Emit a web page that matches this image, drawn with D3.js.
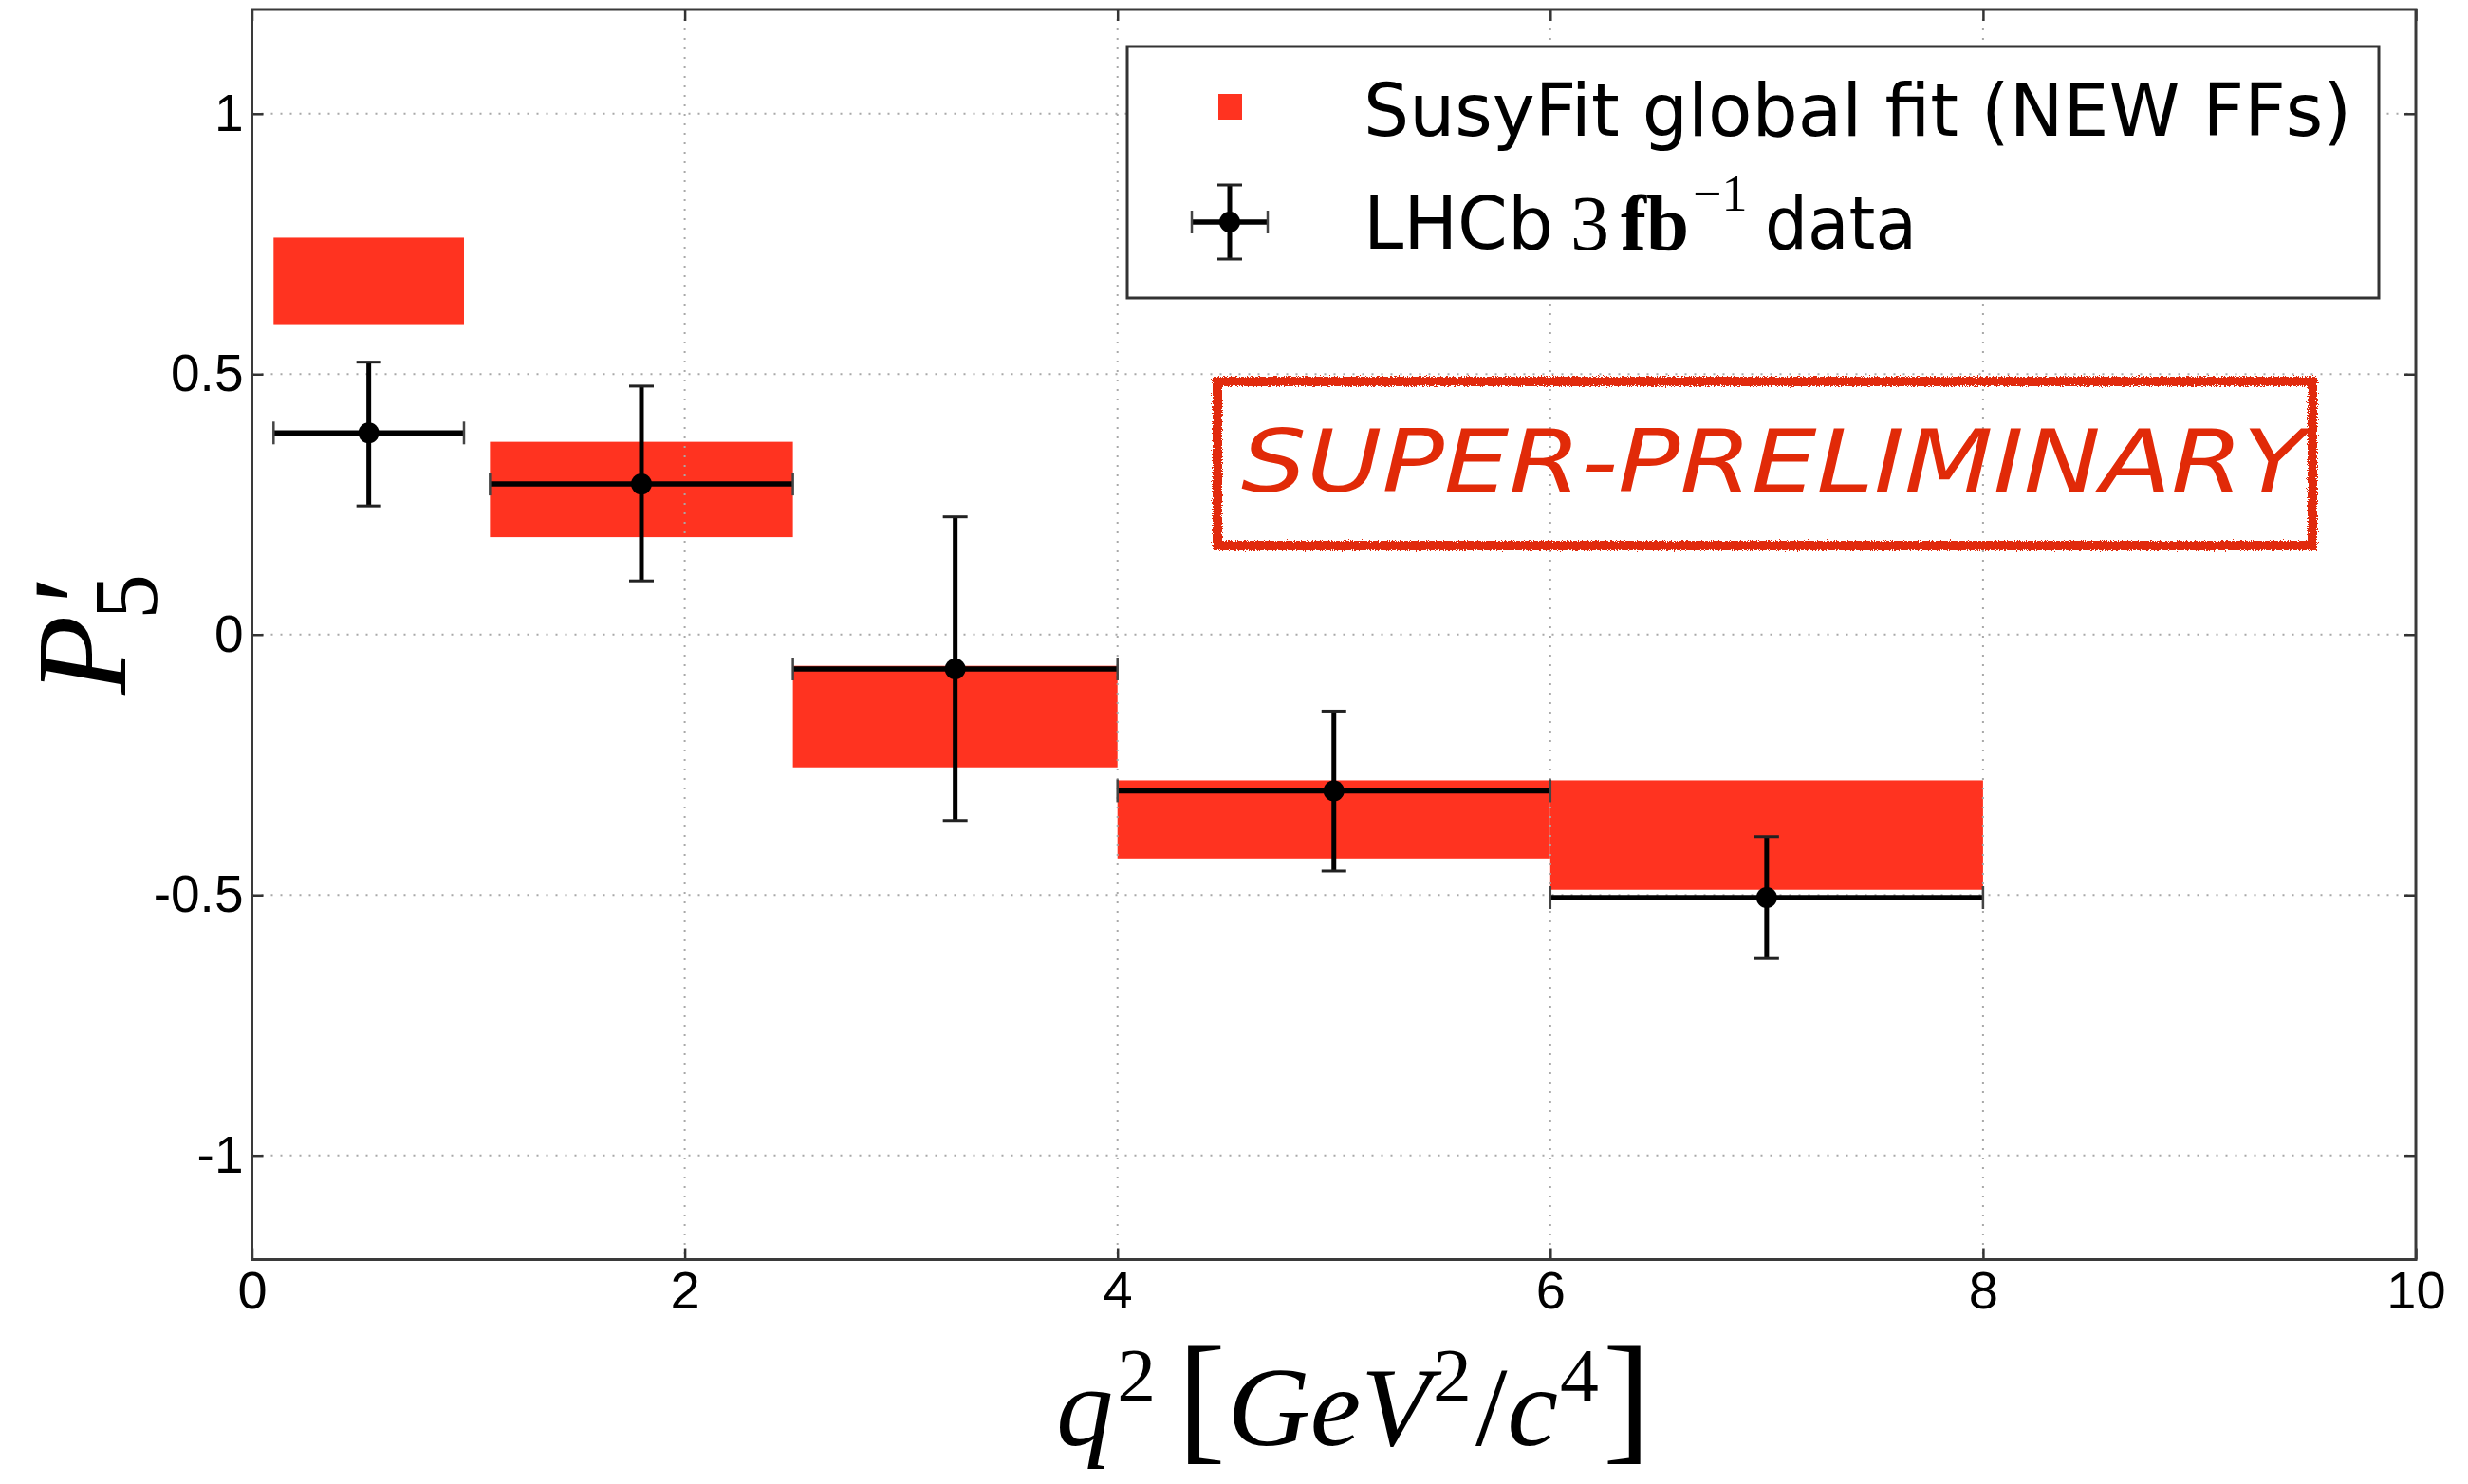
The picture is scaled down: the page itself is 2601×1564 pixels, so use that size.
<!DOCTYPE html>
<html><head><meta charset="utf-8">
<script src="https://cdn.jsdelivr.net/npm/d3@7"></script>
<style>html,body{margin:0;padding:0;background:#fff;} svg{display:block;}</style>
</head><body>
<svg id="chart" width="2601" height="1564"></svg>
<script>
// q^2 bins (GeV^2/c^4)
const binLow  = [0.1, 1.1, 2.5, 4.0, 6.0];
const binHigh = [0.98, 2.5, 4.0, 6.0, 8.0];
// global-fit prediction bands for P5'
const fitMin = [0.596, 0.187, -0.255, -0.430, -0.490];
const fitMax = [0.762, 0.370, -0.060, -0.280, -0.280];
// LHCb measurement with asymmetric errors
const dataQ2  = [0.54, 1.80, 3.25, 5.00, 7.00];
const dataP5  = [0.387, 0.289, -0.066, -0.300, -0.505];
const errUp   = [0.136, 0.188, 0.292, 0.153, 0.117];
const errDown = [0.140, 0.186, 0.291, 0.154, 0.117];
// axis ticks
const xTicks = [0, 2, 4, 6, 8, 10];
const yTicks = [-1, -0.5, 0, 0.5, 1];
const yTickLabels = ["-1", "-0.5", "0", "0.5", "1"];

const plot = {left: 265.5, right: 2546, top: 10, bottom: 1327.5};
const RED = "#ff3320";

const svg = d3.select("#chart");
const x = d3.scaleLinear().domain([0, 10]).range([plot.left, plot.right]);
const y = d3.scaleLinear().domain([-1.2, 1.2]).range([plot.bottom, plot.top]);

const defs = svg.append("defs");
const rough = defs.append("filter").attr("id", "rough")
  .attr("x", "-5%").attr("y", "-20%").attr("width", "110%").attr("height", "140%");
rough.append("feTurbulence").attr("type", "fractalNoise").attr("baseFrequency", 0.9)
  .attr("numOctaves", 2).attr("seed", 3).attr("result", "noise");
rough.append("feDisplacementMap").attr("in", "SourceGraphic").attr("in2", "noise")
  .attr("scale", 6).attr("xChannelSelector", "R").attr("yChannelSelector", "G");

// fit bands
const bins = binLow.map((lo, i) => ({lo, hi: binHigh[i], min: fitMin[i], max: fitMax[i]}));
svg.append("g").selectAll("rect").data(bins).join("rect")
  .attr("x", d => x(d.lo)).attr("width", d => x(d.hi) - x(d.lo))
  .attr("y", d => y(d.max)).attr("height", d => y(d.min) - y(d.max))
  .attr("fill", RED);

// dotted grid
const grid = svg.append("g").attr("stroke", "#a8a8a8").attr("stroke-width", 2)
  .attr("stroke-dasharray", "2,8");
grid.selectAll(".gx").data(xTicks.slice(1, -1)).join("line")
  .attr("x1", d => x(d)).attr("x2", d => x(d)).attr("y1", plot.top).attr("y2", plot.bottom);
grid.selectAll(".gy").data(yTicks).join("line")
  .attr("y1", d => y(d)).attr("y2", d => y(d)).attr("x1", plot.left).attr("x2", plot.right);

// measurements
const pts = dataQ2.map((q, i) => ({q, v: dataP5[i], up: errUp[i], dn: errDown[i], lo: binLow[i], hi: binHigh[i]}));
const g = svg.append("g").selectAll("g").data(pts).join("g");
g.append("line").attr("x1", d => x(d.lo)).attr("x2", d => x(d.hi))
  .attr("y1", d => y(d.v)).attr("y2", d => y(d.v)).attr("stroke", "#000").attr("stroke-width", 5.5);
g.append("line").attr("x1", d => x(d.q)).attr("x2", d => x(d.q))
  .attr("y1", d => y(d.v + d.up)).attr("y2", d => y(d.v - d.dn)).attr("stroke", "#000").attr("stroke-width", 5);
g.selectAll(".vcap").data(d => [[d.q, d.v + d.up], [d.q, d.v - d.dn]]).join("line")
  .attr("x1", d => x(d[0]) - 13).attr("x2", d => x(d[0]) + 13)
  .attr("y1", d => y(d[1])).attr("y2", d => y(d[1])).attr("stroke", "#222").attr("stroke-width", 3);
g.selectAll(".hcap").data(d => [[d.lo, d.v], [d.hi, d.v]]).join("line")
  .attr("x1", d => x(d[0])).attr("x2", d => x(d[0]))
  .attr("y1", d => y(d[1]) - 12).attr("y2", d => y(d[1]) + 12).attr("stroke", "#444").attr("stroke-width", 2.5);
g.append("circle").attr("cx", d => x(d.q)).attr("cy", d => y(d.v)).attr("r", 11).attr("fill", "#000");

// axes: inward ticks on all four sides
const tickFontY = "'Liberation Sans', Arial, sans-serif";
const tickFontX = "'Liberation Sans Narrow', 'Liberation Sans', sans-serif";
const axB = svg.append("g").attr("transform", `translate(0,${plot.bottom})`)
  .call(d3.axisBottom(x).tickValues(xTicks).tickSize(-12).tickPadding(12).tickFormat(d3.format("d")));
axB.selectAll("text").attr("font-family", tickFontX).attr("font-size", 56).attr("fill", "#000");
const axT = svg.append("g").attr("transform", `translate(0,${plot.top})`)
  .call(d3.axisTop(x).tickValues(xTicks).tickSize(-12).tickFormat(""));
const axL = svg.append("g").attr("transform", `translate(${plot.left},0)`)
  .call(d3.axisLeft(y).tickValues(yTicks).tickSize(-12).tickPadding(9).tickFormat((d, i) => yTickLabels[i]));
axL.selectAll("text").attr("font-family", tickFontY).attr("font-size", 55).attr("fill", "#000");
const axR = svg.append("g").attr("transform", `translate(${plot.right},0)`)
  .call(d3.axisRight(y).tickValues(yTicks).tickSize(-12).tickFormat(""));
[axB, axT, axL, axR].forEach(a => {
  a.select(".domain").remove();
  a.selectAll(".tick line").attr("stroke", "#333").attr("stroke-width", 2.5);
});
svg.append("rect").attr("x", plot.left).attr("y", plot.top)
  .attr("width", plot.right - plot.left).attr("height", plot.bottom - plot.top)
  .attr("fill", "none").attr("stroke", "#3a3a3a").attr("stroke-width", 3);

// legend
const leg = svg.append("g");
leg.append("rect").attr("x", 1188).attr("y", 49).attr("width", 1319).attr("height", 265)
  .attr("fill", "#fff").attr("stroke", "#333").attr("stroke-width", 3);
leg.append("rect").attr("x", 1284).attr("y", 99).attr("width", 25).attr("height", 27).attr("fill", RED);
const legFont = "'DejaVu Sans', sans-serif";
const serif = "'Liberation Serif', 'DejaVu Serif', serif";
leg.append("text").attr("x", 1437).attr("y", 143).attr("font-family", legFont).attr("font-size", 76)
  .attr("textLength", 1041).attr("lengthAdjust", "spacingAndGlyphs")
  .text("SusyFit global fit (NEW FFs)");
// legend errorbar sample
const lx = 1296, ly = 234;
leg.append("line").attr("x1", lx - 40).attr("x2", lx + 40).attr("y1", ly).attr("y2", ly).attr("stroke", "#000").attr("stroke-width", 5.5);
leg.append("line").attr("x1", lx).attr("x2", lx).attr("y1", ly - 39).attr("y2", ly + 39).attr("stroke", "#000").attr("stroke-width", 5);
[ly - 39, ly + 39].forEach(cy =>
  leg.append("line").attr("x1", lx - 13).attr("x2", lx + 13).attr("y1", cy).attr("y2", cy).attr("stroke", "#222").attr("stroke-width", 3));
[lx - 40, lx + 40].forEach(cx =>
  leg.append("line").attr("x1", cx).attr("x2", cx).attr("y1", ly - 12).attr("y2", ly + 12).attr("stroke", "#444").attr("stroke-width", 2.5));
leg.append("circle").attr("cx", lx).attr("cy", ly).attr("r", 11).attr("fill", "#000");
leg.append("text").attr("x", 1437).attr("y", 262).attr("font-family", legFont).attr("font-size", 76)
  .attr("textLength", 200).attr("lengthAdjust", "spacingAndGlyphs").text("LHCb");
leg.append("text").attr("x", 1655).attr("y", 263).attr("font-family", serif).attr("font-size", 82).text("3");
leg.append("text").attr("x", 1708).attr("y", 263).attr("font-family", serif).attr("font-size", 82)
  .attr("font-weight", "bold").attr("textLength", 72).attr("lengthAdjust", "spacingAndGlyphs").text("fb");
leg.append("text").attr("x", 1784).attr("y", 222).attr("font-family", serif).attr("font-size", 54).text("\u22121");
leg.append("text").attr("x", 1860).attr("y", 262).attr("font-family", legFont).attr("font-size", 76)
  .attr("textLength", 160).attr("lengthAdjust", "spacingAndGlyphs").text("data");

// preliminary stamp
const stamp = svg.append("g");
stamp.append("rect").attr("x", 1283).attr("y", 402).attr("width", 1154).attr("height", 173)
  .attr("fill", "none").attr("stroke", "#e12a08").attr("stroke-width", 10).attr("filter", "url(#rough)");
stamp.append("text").attr("x", 1308).attr("y", 518)
  .attr("font-family", "'DejaVu Sans', sans-serif").attr("font-style", "italic").attr("font-weight", 200)
  .attr("font-size", 90).attr("fill", "#e12a08")
  .attr("textLength", 1122).attr("lengthAdjust", "spacingAndGlyphs")
  .text("SUPER-PRELIMINARY");

// y-axis title P'_5, each glyph fitted to its ink box with canvas metrics
const ctx = document.createElement("canvas").getContext("2d");
const yt = svg.append("g").attr("transform", "rotate(-90)").attr("fill", "#000");
function rotatedGlyph(str, style, box) {
  ctx.font = `${style} 100px "Liberation Serif"`;
  const m = ctx.measureText(str);
  const k = (box.x1 - box.x0) / (m.actualBoundingBoxAscent + m.actualBoundingBoxDescent);
  yt.append("text").attr("font-family", serif).attr("font-style", style).attr("font-size", 100 * k)
    .attr("x", m.actualBoundingBoxLeft * k - box.y1)
    .attr("y", box.x0 + m.actualBoundingBoxAscent * k)
    .text(str);
}
rotatedGlyph("P", "italic", {x0: 43, x1: 133, y1: 733});
rotatedGlyph("\u2032", "normal", {x0: 40, x1: 73, y1: 631});
rotatedGlyph("5", "normal", {x0: 103, x1: 167, y1: 648});

// x-axis title q^2 [GeV^2/c^4]
const xt = svg.append("text").attr("x", 1113).attr("y", 1523).attr("font-family", serif).attr("fill", "#000");
xt.append("tspan").attr("font-size", 118).attr("font-style", "italic").text("q");
xt.append("tspan").attr("font-size", 80).attr("dy", -46).attr("dx", 4).text("2");
xt.append("tspan").attr("font-size", 150).attr("dy", 46).attr("dx", 22).text("[");
xt.append("tspan").attr("font-size", 118).attr("font-style", "italic").attr("dx", 2).text("GeV");
xt.append("tspan").attr("font-size", 80).attr("dy", -46).attr("dx", 2).text("2");
xt.append("tspan").attr("font-size", 118).attr("dy", 46).attr("dx", 4).text("/");
xt.append("tspan").attr("font-size", 118).attr("font-style", "italic").text("c");
xt.append("tspan").attr("font-size", 80).attr("dy", -46).attr("dx", 2).text("4");
xt.append("tspan").attr("font-size", 150).attr("dy", 46).attr("dx", 4).text("]");
const bb = xt.node().getBBox();
const sx = 627 / bb.width;
xt.attr("transform", `translate(${1113 - 1113 * sx},0) scale(${sx},1)`);
</script>
</body></html>
